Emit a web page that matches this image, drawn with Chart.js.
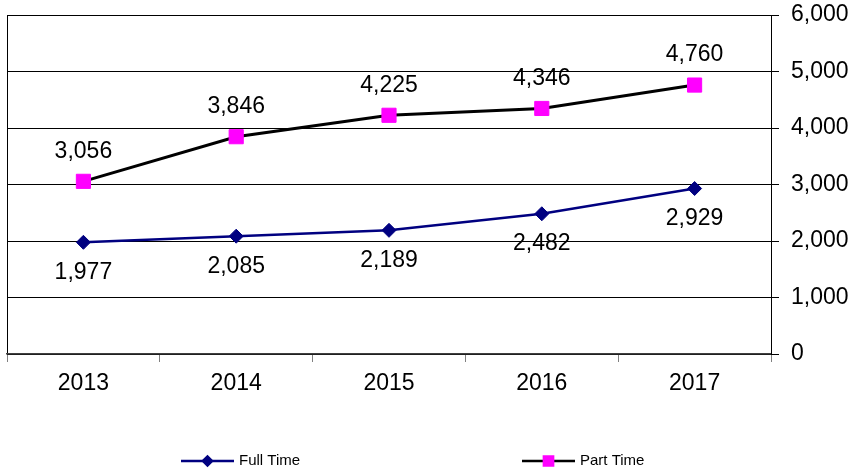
<!DOCTYPE html>
<html>
<head>
<meta charset="utf-8">
<script src="https://cdn.jsdelivr.net/npm/chart.js@4.4.1/dist/chart.umd.min.js"></script>
<style>
  html, body { margin: 0; padding: 0; background: #fff; }
  #wrap { width: 856px; height: 471px; }
</style>
</head>
<body>
<div id="wrap"><canvas id="enrolment-chart" width="856" height="471"></canvas></div>
<script>
// Data
let years = Array.of('2013', '2014', '2015', '2016', '2017');
let fullTime = Array.of(1977, 2085, 2189, 2482, 2929);
let partTime = Array.of(3056, 3846, 4225, 4346, 4760);
let yTicks = Array.of(0, 1000, 2000, 3000, 4000, 5000, 6000);

const FONT = '"Liberation Sans", Arial, sans-serif';

// value labels above / below each point
const valueLabels = {
    id: 'valueLabels',
    afterDatasetsDraw(chart) {
        const ctx = chart.ctx;
        ctx.save();
        ctx.font = '23px ' + FONT;
        ctx.fillStyle = '#000';
        ctx.textAlign = 'center';
        ctx.textBaseline = 'middle';
        chart.data.datasets.forEach((ds, i) => {
            const meta = chart.getDatasetMeta(i);
            meta.data.forEach((pt, j) => {
                const txt = ds.data[j].toLocaleString('en-US');
                ctx.fillText(txt, pt.x, pt.y + ds.labelOffset);
            });
        });
        ctx.restore();
    }
};

// legend with line + marker, like the original
const lineLegend = {
    id: 'lineLegend',
    afterDraw(chart) {
        const ctx = chart.ctx;
        const starts = [181, 522];
        const y = 461;
        ctx.save();
        chart.data.datasets.forEach((ds, i) => {
            const x0 = starts[i];
            ctx.strokeStyle = ds.borderColor;
            ctx.lineWidth = 2.5;
            ctx.beginPath();
            ctx.moveTo(x0, y);
            ctx.lineTo(x0 + 53, y);
            ctx.stroke();
            ctx.fillStyle = ds.pointBackgroundColor;
            ctx.strokeStyle = ds.pointBorderColor;
            Chart.helpers.drawPoint(ctx, {
                pointStyle: ds.pointStyle,
                radius: ds.pointStyle === 'rect' ? 6.5 : 4.5,
                rotation: 0,
                borderWidth: 1
            }, x0 + 26.5, y);
            ctx.fillStyle = '#000';
            ctx.font = '15px ' + FONT;
            ctx.textAlign = 'left';
            ctx.textBaseline = 'middle';
            ctx.fillText(ds.label, x0 + 58, y);
        });
        ctx.restore();
    }
};

// drop the label overhang padding so the plot area sits where the original has it
function noOverhang(scale) {
    scale.paddingLeft = 0;
    scale.paddingRight = 0;
    scale.paddingTop = 0;
    scale.paddingBottom = 0;
}

var chartData = {
    labels: years,
    datasets: [{
        label: 'Full Time',
        data: fullTime,
        borderColor: '#000080',
        borderWidth: 2.5,
        pointStyle: 'rectRot',
        pointRadius: 7,
        pointHoverRadius: 7,
        pointBackgroundColor: '#000080',
        pointBorderColor: '#000080',
        pointBorderWidth: 1,
        tension: 0,
        labelOffset: 30
    }, {
        label: 'Part Time',
        data: partTime,
        borderColor: '#000000',
        borderWidth: 3,
        pointStyle: 'rect',
        pointRadius: 10,
        pointHoverRadius: 10,
        pointBackgroundColor: '#FF00FF',
        pointBorderColor: '#FF00FF',
        pointBorderWidth: 1,
        tension: 0,
        labelOffset: -30
    }]
};

var options = {
    responsive: false,
    animation: false,
    events: [],
    layout: { autoPadding: false, padding: { left: 7, top: 15, right: 0, bottom: 0 } },
    plugins: {
        legend: { display: false },
        tooltip: { enabled: false }
    },
    scales: {
        x: {
            offset: true,
            afterFit(scale) { scale.height = 117; noOverhang(scale); },
            grid: {
                offset: true,
                drawOnChartArea: true,
                color: c => c.index === 0 ? '#000' : 'rgba(0,0,0,0)',
                tickColor: '#808080',
                tickLength: 8,
                lineWidth: 1
            },
            border: { display: true, color: '#404040', width: 1.5 },
            ticks: {
                color: '#000',
                padding: 8,
                maxRotation: 0,
                font: { family: FONT, size: 23 }
            }
        },
        y: {
            position: 'right',
            min: yTicks[0],
            max: yTicks[yTicks.length - 1],
            afterFit(scale) { scale.width = 85; noOverhang(scale); },
            afterBuildTicks(scale) { scale.ticks = yTicks.map(v => ({ value: v })); },
            grid: {
                color: '#000',
                tickColor: '#000',
                tickLength: 8,
                lineWidth: 1
            },
            border: { display: true, color: '#000', width: 1 },
            ticks: {
                color: '#000',
                padding: 12,
                crossAlign: 'near',
                font: { family: FONT, size: 23 },
                callback: v => v.toLocaleString('en-US')
            }
        }
    }
};

var enrolmentChart = new Chart(document.getElementById('enrolment-chart').getContext('2d'), {
    type: 'line',
    data: chartData,
    options: options,
    plugins: [valueLabels, lineLegend]
});
</script>
</body>
</html>
